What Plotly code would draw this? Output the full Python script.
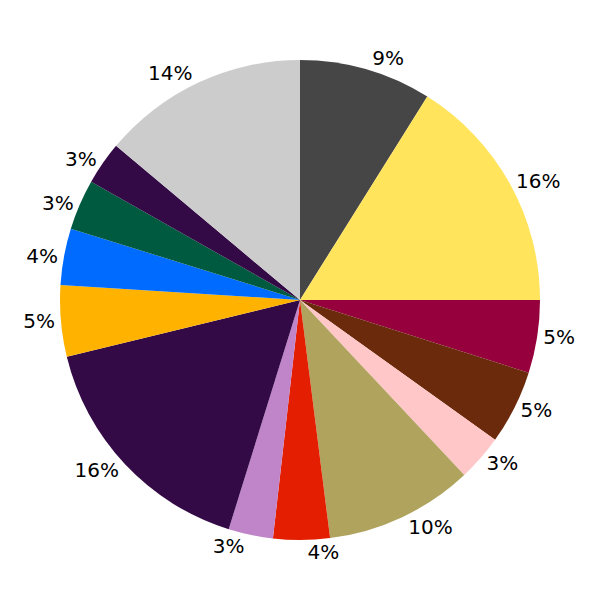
import plotly.graph_objects as go

# slice shares, clockwise from 12 o'clock
shares = [8.9, 16.1, 4.9, 5.0, 3.1, 10.0, 3.8, 3.0, 16.4, 4.8, 3.8, 3.4, 2.9, 13.9]
names = ['A', 'B', 'C', 'D', 'E', 'F', 'G', 'H', 'I', 'J', 'K', 'L', 'M', 'N']
colours = ['#464646', '#FFE45C', '#96003C', '#6B2A0C', '#FFC7C7', '#AFA35E', '#E41E00',
           '#C084C8', '#330A45', '#FFB300', '#006CFF', '#005A40', '#330A45', '#CCCCCC']

fig = go.Figure(go.Pie(
    labels=names, values=shares, sort=False, direction='clockwise', rotation=0,
    marker=dict(colors=colours, line=dict(width=0)),
    texttemplate='%{percent:.0%}', textposition='outside',
    textfont=dict(family='DejaVu Sans', size=20, color='black'),
    showlegend=False, hoverinfo='label+percent',
))

# page body adds ~8px offset, so shift the plot area up/left
fig.update_layout(width=600, height=600, margin=dict(l=52, r=68, t=52, b=68),
                  paper_bgcolor='white', plot_bgcolor='white',
                  font=dict(family='DejaVu Sans'))

fig.write_html("out.html")
